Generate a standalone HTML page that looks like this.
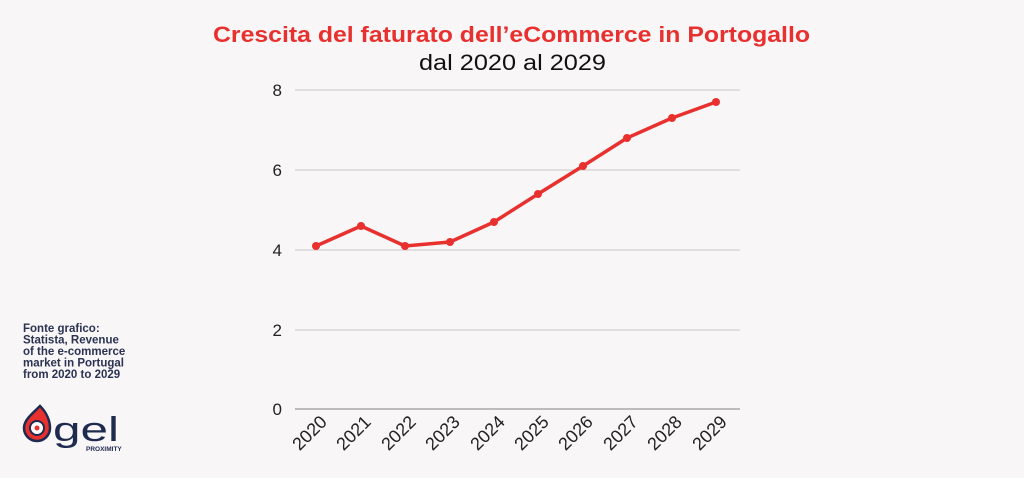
<!DOCTYPE html>
<html><head><meta charset="utf-8"><style>
html,body{margin:0;padding:0;background:#f9f6f7;}
</style></head><body>
<svg width="1024" height="478" viewBox="0 0 1024 478" xmlns="http://www.w3.org/2000/svg" style="display:block;font-family:'Liberation Sans',sans-serif">
<rect width="1024" height="478" fill="#f9f6f7"/>
<text x="213" y="42" font-size="22" font-weight="bold" fill="#e8312f" textLength="597" lengthAdjust="spacingAndGlyphs">Crescita del faturato dell’eCommerce in Portogallo</text>
<text x="419" y="70" font-size="22" fill="#111" textLength="187" lengthAdjust="spacingAndGlyphs">dal 2020 al 2029</text>
<g stroke="#c8c6c7" stroke-width="1">
<line x1="295" y1="90" x2="740" y2="90"/>
<line x1="295" y1="170" x2="740" y2="170"/>
<line x1="295" y1="250" x2="740" y2="250"/>
<line x1="295" y1="330" x2="740" y2="330"/>
</g>
<line x1="295" y1="409" x2="740" y2="409" stroke="#999" stroke-width="1.2"/>
<g font-size="17" fill="#222" text-anchor="end">
<text x="282" y="96">8</text><text x="282" y="176">6</text><text x="282" y="256">4</text><text x="282" y="336">2</text><text x="282" y="415">0</text>
</g>
<g font-size="18" fill="#222" text-anchor="end">
<text transform="translate(328,423) rotate(-45)">2020</text>
<text transform="translate(372,423) rotate(-45)">2021</text>
<text transform="translate(417,423) rotate(-45)">2022</text>
<text transform="translate(461,423) rotate(-45)">2023</text>
<text transform="translate(506,423) rotate(-45)">2024</text>
<text transform="translate(550,423) rotate(-45)">2025</text>
<text transform="translate(594,423) rotate(-45)">2026</text>
<text transform="translate(639,423) rotate(-45)">2027</text>
<text transform="translate(683,423) rotate(-45)">2028</text>
<text transform="translate(728,423) rotate(-45)">2029</text>
</g>
<polyline fill="none" stroke="#e8312f" stroke-width="3.5" stroke-linejoin="round" points="316,246 361,226 405,246 450,242 494,222 538,194 583,166 627,138 672,118 716,102"/>
<g fill="#e8312f">
<circle cx="316" cy="246" r="4"/><circle cx="361" cy="226" r="4"/><circle cx="405" cy="246" r="4"/><circle cx="450" cy="242" r="4"/><circle cx="494" cy="222" r="4"/><circle cx="538" cy="194" r="4"/><circle cx="583" cy="166" r="4"/><circle cx="627" cy="138" r="4"/><circle cx="672" cy="118" r="4"/><circle cx="716" cy="102" r="4"/>
</g>
<g font-size="11.5" font-weight="bold" fill="#2a3352">
<text x="23" y="332">Fonte grafico:</text>
<text x="23" y="343.5">Statista, Revenue</text>
<text x="23" y="355">of the e-commerce</text>
<text x="23" y="366.5">market in Portugal</text>
<text x="23" y="378">from 2020 to 2029</text>
</g>
<path d="M40 406 C32 414 24 420 24 428 A13 13 0 0 0 50 428 C50 420 46 412 40 406Z" fill="#e8312f" stroke="#1f2a4f" stroke-width="2.5"/>
<circle cx="37" cy="428" r="7" fill="#fff" stroke="#1f2a4f" stroke-width="2"/>
<circle cx="37" cy="428" r="2.5" fill="#e8312f"/>
<text x="53" y="441" font-size="34" fill="#1f2a4f" textLength="66" lengthAdjust="spacingAndGlyphs">gel</text>
<text x="86" y="451" font-size="6.5" font-weight="bold" fill="#1f2a4f">PROXIMITY</text>
</svg>
</body></html>
